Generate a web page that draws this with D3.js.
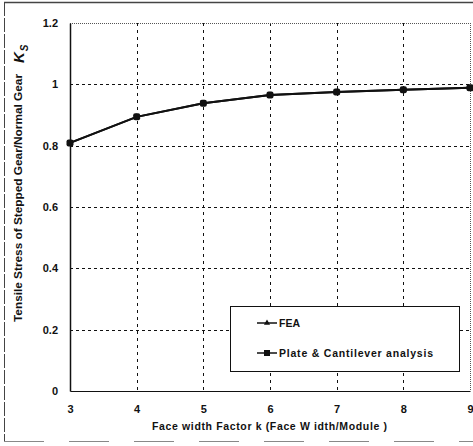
<!DOCTYPE html>
<html>
<head>
<meta charset="utf-8">
<script src="https://cdn.jsdelivr.net/npm/d3@7"></script>
<style>
  body { margin: 0; background: #fff; }
  svg { display: block; }
  text { font-family: "Liberation Sans", Arial, sans-serif; font-weight: bold; fill: #111; }
</style>
</head>
<body>
<svg id="chart" width="473" height="446"></svg>
<script>
// Face width factor k and stress ratio Ks
const faceWidthFactor = [3, 4, 5, 6, 7, 8, 9];
const feaValues = [0.809, 0.894, 0.938, 0.965, 0.975, 0.982, 0.989];
const plateCantileverValues = [0.809, 0.894, 0.938, 0.965, 0.975, 0.982, 0.989];
const xTicks = [3, 4, 5, 6, 7, 8, 9];
const yTicks = [0, 0.2, 0.4, 0.6, 0.8, 1, 1.2];
const seriesNames = ["FEA", "Plate & Cantilever analysis"];

const svg = d3.select("#chart");
const plotLeft = 70, plotRight = 470, plotTop = 23, plotBottom = 391;

const x = d3.scaleLinear().domain([3, 9]).range([plotLeft, plotRight]);
const y = d3.scaleLinear().domain([0, 1.2]).range([plotBottom, plotTop]);

// outer frame
const frame = svg.append("g").attr("stroke", "#444").attr("fill", "none");
frame.append("line").attr("x1", 4).attr("x2", 473).attr("y1", 2.5).attr("y2", 2.5).attr("stroke-width", 1.5);
frame.append("line").attr("x1", 4.5).attr("x2", 4.5).attr("y1", 2).attr("y2", 441).attr("stroke-width", 1).attr("stroke-dasharray", "14,2");
frame.append("line").attr("x1", 4).attr("x2", 473).attr("y1", 441.5).attr("y2", 441.5).attr("stroke-width", 1).attr("stroke", "#888").attr("stroke-dasharray", "40,25");

// grid
const grid = svg.append("g").attr("stroke", "#111").attr("stroke-width", 1);
grid.selectAll(".hg").data(yTicks.filter(v => v > 0 && v < 1.2)).join("line")
  .attr("x1", plotLeft).attr("x2", plotRight)
  .attr("y1", d => Math.round(y(d)) + 0.5).attr("y2", d => Math.round(y(d)) + 0.5)
  .attr("stroke-dasharray", "3,3");
grid.selectAll(".vg").data(xTicks.filter(v => v > 3 && v < 9)).join("line")
  .attr("x1", d => Math.round(x(d)) + 0.5).attr("x2", d => Math.round(x(d)) + 0.5)
  .attr("y1", plotTop).attr("y2", plotBottom)
  .attr("stroke-dasharray", "3,4");
// top and right plot edges (dotted)
grid.append("line").attr("x1", plotLeft).attr("x2", plotRight).attr("y1", plotTop + 0.5).attr("y2", plotTop + 0.5)
  .attr("stroke", "#555").attr("stroke-dasharray", "1,1");
grid.append("line").attr("x1", plotRight + 0.5).attr("x2", plotRight + 0.5).attr("y1", plotTop).attr("y2", plotBottom)
  .attr("stroke", "#555").attr("stroke-dasharray", "1,1");

// axes
const xAxis = svg.append("g").attr("transform", `translate(0,${plotBottom})`)
  .call(d3.axisBottom(x).tickValues(xTicks).tickSize(0).tickPadding(14).tickFormat(d3.format("d")));
xAxis.select(".domain").attr("stroke", "#111").attr("stroke-width", 1.2);
xAxis.selectAll("text").attr("font-size", 11).attr("font-family", null).attr("fill", "#111");

const yAxis = svg.append("g").attr("transform", `translate(${plotLeft},0)`)
  .call(d3.axisLeft(y).tickValues(yTicks).tickSize(0).tickPadding(12).tickFormat(d => d3.format("~g")(d)));
yAxis.select(".domain").attr("stroke", "#111").attr("stroke-width", 1.5);
yAxis.selectAll("text").attr("font-size", 11).attr("font-family", null).attr("fill", "#111");

// series
const line = d3.line().x((d, i) => x(faceWidthFactor[i])).y(d => y(d));
svg.append("path").datum(feaValues).attr("d", line)
  .attr("fill", "none").attr("stroke", "#111").attr("stroke-width", 2);
svg.append("path").datum(plateCantileverValues).attr("d", line)
  .attr("fill", "none").attr("stroke", "#111").attr("stroke-width", 2);

const tri = d3.symbol().type(d3.symbolTriangle).size(16);
svg.append("g").selectAll("path").data(feaValues).join("path")
  .attr("d", tri)
  .attr("transform", (d, i) => `translate(${x(faceWidthFactor[i])},${y(d)})`)
  .attr("fill", "#111");
svg.append("g").selectAll("rect").data(plateCantileverValues).join("rect")
  .attr("x", (d, i) => x(faceWidthFactor[i]) - 3.5)
  .attr("y", d => y(d) - 3.5)
  .attr("width", 7).attr("height", 7).attr("rx", 2)
  .attr("fill", "#111");

// axis titles
svg.append("text")
  .attr("transform", "translate(22,322) rotate(-90)")
  .attr("font-size", 10.5)
  .attr("textLength", 248)
  .attr("lengthAdjust", "spacingAndGlyphs")
  .text("Tensile Stress of Stepped Gear/Normal Gear");
const ks = svg.append("text")
  .attr("transform", "translate(24,63) rotate(-90)")
  .attr("font-family", "'Liberation Serif', 'Times New Roman', serif")
  .attr("font-style", "italic").attr("font-weight", "normal")
  .attr("font-size", 15);
ks.append("tspan").text("K");
ks.append("tspan").attr("font-size", 10).attr("dy", 4).attr("dx", 1).text("S");

svg.append("text")
  .attr("x", 152).attr("y", 430)
  .attr("font-size", 10.5)
  .attr("textLength", 235)
  .attr("lengthAdjust", "spacing")
  .text("Face width Factor k (Face W idth/Module )");

// legend
const lg = svg.append("g");
lg.append("rect").attr("x", 230.5).attr("y", 306.5).attr("width", 229).attr("height", 65)
  .attr("fill", "#fff").attr("stroke", "#111").attr("stroke-width", 1);
const legendY = [327, 357];
seriesNames.forEach((name, i) => {
  const ly = legendY[i] - 4;
  lg.append("line").attr("x1", 257).attr("x2", 277).attr("y1", ly).attr("y2", ly)
    .attr("stroke", "#111").attr("stroke-width", 1.5);
  if (i === 0) {
    lg.append("path").attr("d", tri).attr("transform", `translate(267,${ly})`).attr("fill", "#111");
  } else {
    lg.append("rect").attr("x", 264).attr("y", ly - 3).attr("width", 6).attr("height", 6).attr("fill", "#111");
  }
  const t = lg.append("text").attr("x", 279).attr("y", legendY[i]).attr("font-size", 10.5).text(name);
  if (i === 1) t.attr("textLength", 154).attr("lengthAdjust", "spacing");
});
</script>
</body>
</html>
